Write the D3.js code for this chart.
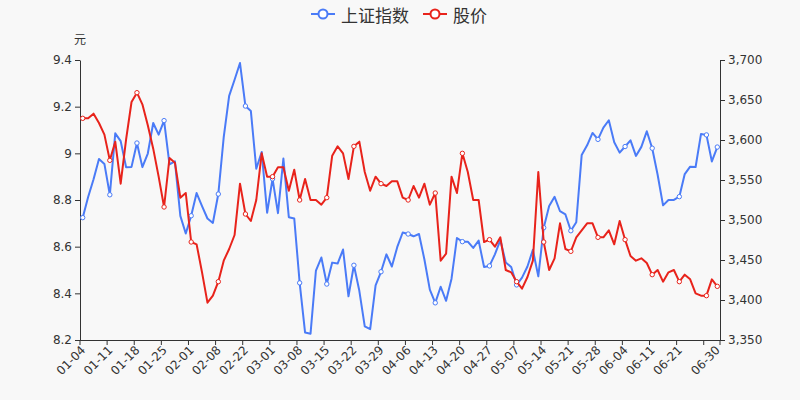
<!DOCTYPE html>
<html><head><meta charset="utf-8">
<script src="https://cdn.jsdelivr.net/npm/d3@7"></script>
<style>
html,body{margin:0;padding:0;background:#f8f8f8;}
svg{display:block;font-family:"DejaVu Sans","Noto Sans CJK SC",sans-serif;}
</style></head><body><svg id="c" width="800" height="400"></svg>
<script>
const dates = [
"01-04","01-05","01-06","01-07","01-08","01-11","01-12","01-13","01-14","01-15",
"01-18","01-19","01-20","01-21","01-22","01-25","01-26","01-27","01-28","01-29",
"02-01","02-02","02-03","02-04","02-05","02-08","02-09","02-10","02-18","02-19",
"02-22","02-23","02-24","02-25","02-26","03-01","03-02","03-03","03-04","03-05",
"03-08","03-09","03-10","03-11","03-12","03-15","03-16","03-17","03-18","03-19",
"03-22","03-23","03-24","03-25","03-26","03-29","03-30","03-31","04-01","04-02",
"04-06","04-07","04-08","04-09","04-12","04-13","04-14","04-15","04-16","04-19",
"04-20","04-21","04-22","04-23","04-26","04-27","04-28","04-29","04-30","05-06",
"05-07","05-10","05-11","05-12","05-13","05-14","05-17","05-18","05-19","05-20",
"05-21","05-24","05-25","05-26","05-27","05-28","05-31","06-01","06-02","06-03",
"06-04","06-07","06-08","06-09","06-10","06-11","06-15","06-16","06-17","06-18",
"06-21","06-22","06-23","06-24","06-25","06-28","06-29","06-30"];

const indexValues = [
3502.96,3528.68,3550.88,3576.20,3570.11,3531.50,3608.34,3598.65,3565.90,3566.38,
3596.22,3566.08,3583.09,3621.26,3606.75,3624.24,3569.43,3573.34,3505.18,3483.07,
3505.31,3533.68,3517.31,3501.86,3496.33,3532.44,3603.49,3655.09,3675.36,3696.17,
3642.44,3636.36,3564.08,3585.05,3509.08,3551.40,3508.59,3576.90,3503.49,3501.99,
3421.41,3359.29,3357.74,3436.83,3453.08,3419.95,3446.73,3445.55,3463.07,3404.66,
3443.44,3411.51,3367.06,3363.59,3418.33,3435.30,3457.07,3441.91,3466.33,3484.39,
3482.48,3479.63,3482.55,3450.68,3412.95,3396.47,3416.58,3398.99,3426.62,3477.55,
3472.94,3472.93,3465.11,3474.17,3441.17,3442.61,3457.07,3474.90,3446.86,3441.28,
3418.87,3427.99,3441.85,3462.75,3429.54,3490.38,3517.62,3529.01,3510.96,3506.94,
3486.56,3497.28,3581.34,3593.36,3608.85,3600.78,3615.48,3624.71,3597.14,3584.22,
3591.84,3599.54,3580.11,3591.40,3610.86,3589.75,3556.56,3518.33,3525.10,3525.10,
3529.18,3557.41,3566.65,3566.22,3607.56,3606.37,3573.18,3591.20];

const priceValues = [
9.15,9.15,9.17,9.13,9.08,8.97,9.05,8.87,9.06,9.22,
9.26,9.21,9.12,9.02,8.90,8.77,8.98,8.96,8.81,8.83,
8.62,8.61,8.49,8.36,8.39,8.45,8.54,8.59,8.65,8.87,
8.74,8.71,8.80,9.00,8.90,8.90,8.94,8.94,8.84,8.93,
8.80,8.89,8.80,8.80,8.78,8.81,8.99,9.03,9.00,8.89,
9.03,9.05,8.92,8.84,8.90,8.87,8.86,8.88,8.88,8.81,
8.80,8.86,8.81,8.87,8.78,8.83,8.54,8.57,8.90,8.83,
9.00,8.92,8.80,8.80,8.62,8.63,8.60,8.64,8.50,8.49,
8.45,8.42,8.47,8.54,8.92,8.62,8.50,8.55,8.70,8.59,
8.58,8.64,8.67,8.70,8.70,8.64,8.64,8.67,8.61,8.71,
8.63,8.56,8.54,8.55,8.53,8.48,8.50,8.45,8.49,8.50,
8.45,8.48,8.46,8.40,8.39,8.39,8.46,8.43];

const leftTicks = [8.2,8.4,8.6,8.8,9,9.2,9.4];
const rightTicks = [3350,3400,3450,3500,3550,3600,3650,3700];
const seriesNames = ["上证指数","股价"];
const seriesColors = ["#4a7bf7","#e8231b"];
const unitLabel = "元";

const svg = d3.select("#c");
const L=80,R=720,T=60,B=340;
const x = d3.scalePoint().domain(dates).range([L,R]).padding(0.5);
const xb = d3.scaleBand().domain(dates).range([L,R]);
const yL = d3.scaleLinear().domain([8.2,9.4]).range([B,T]);
const yR = d3.scaleLinear().domain([3350,3700]).range([B,T]);
const axisColor="#333", textColor="#333";

function styleAxis(g){
  g.selectAll("path,line").attr("stroke",axisColor).attr("stroke-width",1);
  g.selectAll("text").attr("fill",textColor).style("font-size","12px").style("font-family",'"DejaVu Sans",sans-serif');
}

// left axis
const gl = svg.append("g").attr("transform",`translate(${L},0)`)
  .call(d3.axisLeft(yL).tickValues(leftTicks).tickSize(5).tickSizeOuter(0).tickPadding(3).tickFormat(d=>String(d)));
styleAxis(gl);
// right axis
const gr = svg.append("g").attr("transform",`translate(${R},0)`)
  .call(d3.axisRight(yR).tickValues(rightTicks).tickSize(5).tickSizeOuter(0).tickPadding(3).tickFormat(d3.format(",")));
styleAxis(gr);

// bottom ticks at band boundaries
const tickDates = dates.filter((d,i)=>i%5===0);
const bw = xb.bandwidth();
const gt = svg.append("g").attr("transform",`translate(${-bw/2},${B})`)
  .call(d3.axisBottom(xb).tickValues(tickDates).tickSize(5).tickSizeOuter(0).tickFormat(""));
gt.select(".domain").remove();
styleAxis(gt);
svg.append("line").attr("x1",xb.range()[1]).attr("x2",xb.range()[1]).attr("y1",B).attr("y2",B+5).attr("stroke",axisColor);
svg.append("line").attr("x1",L).attr("x2",R).attr("y1",B+0.5).attr("y2",B+0.5).attr("stroke",axisColor);

// bottom labels
const labelDates = dates.filter((d,i)=>(i%5===0 && i<=110) || i===dates.length-1);
const gb = svg.append("g").attr("transform",`translate(0,${B})`)
  .call(d3.axisBottom(x).tickValues(labelDates).tickSize(0).tickSizeOuter(0));
gb.select(".domain").remove();
gb.selectAll("text").attr("x",0).attr("y",0).attr("dy","0.35em")
  .attr("text-anchor","end").attr("transform","translate(0,8) rotate(-45)");
styleAxis(gb);

// unit label
svg.append("text").attr("x",L).attr("y",38).attr("text-anchor","middle").attr("dominant-baseline","central")
  .attr("fill",textColor).style("font-size","12px").style("font-family",'"Noto Sans CJK SC",sans-serif').text(unitLabel);

// lines
const series = [
  {name:seriesNames[0], values:indexValues, y:yR, color:seriesColors[0]},
  {name:seriesNames[1], values:priceValues, y:yL, color:seriesColors[1]}
];
series.forEach(s=>{
  const line = d3.line().x((d,i)=>x(dates[i])).y(d=>s.y(d));
  svg.append("path").datum(s.values).attr("d",line).attr("fill","none")
    .attr("stroke",s.color).attr("stroke-width",2).attr("stroke-linejoin","round");
  const pts = s.values.map((v,i)=>({v,i})).filter(p=>p.i%5===0 || p.i===s.values.length-1);
  svg.append("g").selectAll("circle").data(pts).join("circle")
    .attr("cx",p=>x(dates[p.i])).attr("cy",p=>s.y(p.v)).attr("r",2.2)
    .attr("fill","#fff").attr("stroke",s.color).attr("stroke-width",1);
});

// legend
const legendX = [311, 423];
const lg = svg.append("g");
series.forEach((s,k)=>{
  const g = lg.append("g").attr("transform",`translate(${legendX[k]},14)`);
  g.append("line").attr("x1",0).attr("x2",24).attr("y1",0).attr("y2",0).attr("stroke",s.color).attr("stroke-width",2);
  g.append("circle").attr("cx",12).attr("cy",0).attr("r",4.5).attr("fill","#fff").attr("stroke",s.color).attr("stroke-width",2);
  g.append("text").attr("x",30).attr("y",0).attr("dominant-baseline","central")
    .attr("fill",textColor).style("font-size","17px").style("font-family",'"Noto Sans CJK SC",sans-serif').text(s.name);
});
</script></body></html>
